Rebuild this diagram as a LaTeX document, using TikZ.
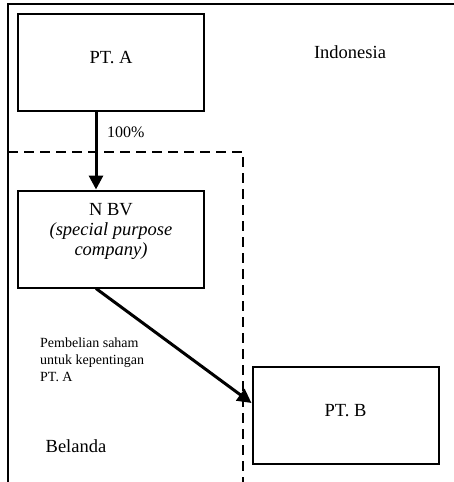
\documentclass[tikz,border=0pt]{standalone}
\usepackage{fontspec}
\setmainfont{Liberation Serif}
\usetikzlibrary{arrows.meta}
\begin{document}
\begin{tikzpicture}[x=1pt,y=-1pt,
  box/.style={draw,line width=2pt,minimum width=186pt,minimum height=97pt,inner sep=0pt,align=center,font=\fontsize{18.5}{20}\selectfont},
  lbl/.style={inner sep=0pt,font=\fontsize{18.5}{20}\selectfont},
  arr/.style={line width=3pt,-{Triangle[length=14pt,width=14pt]}},
  frame/.style={line width=1.8pt},
  border/.style={line width=2.6pt,dash pattern=on 10pt off 6pt}]
\useasboundingbox (0,0) rectangle (454,482);
\draw[frame] (8,482) -- (8,4) -- (454,4);
\draw[border] (8,152) -- (243,152) -- (243,482);
\node[box,text depth=10pt] (pta) at (111,62.5) {PT. A};
\node[box,text depth=0pt] (nbv) at (111,239) {N BV\\[0pt]{\itshape (special purpose}\\[0pt]{\itshape company)}\\[0pt]};
\node[box,text depth=10pt] (ptb) at (345.5,415) {PT. B};
\node[lbl] (indo) at (350,52) {Indonesia};
\node[lbl] (bel) at (76,446) {Belanda};
\node[inner sep=0pt,anchor=west,font=\fontsize{16}{18}\selectfont] (pct) at (107,132) {100\%};
\node[inner sep=0pt,anchor=north west,align=left,font=\fontsize{14}{17}\selectfont] (beli) at (40,338) {Pembelian saham\\untuk kepentingan\\PT. A};
\draw[arr] ([xshift=-15pt]pta.south) -- ([xshift=-15pt]nbv.north);
\draw[arr] ([xshift=-15pt]nbv.south) -- ([yshift=12pt]ptb.west);
\end{tikzpicture}
\end{document}
